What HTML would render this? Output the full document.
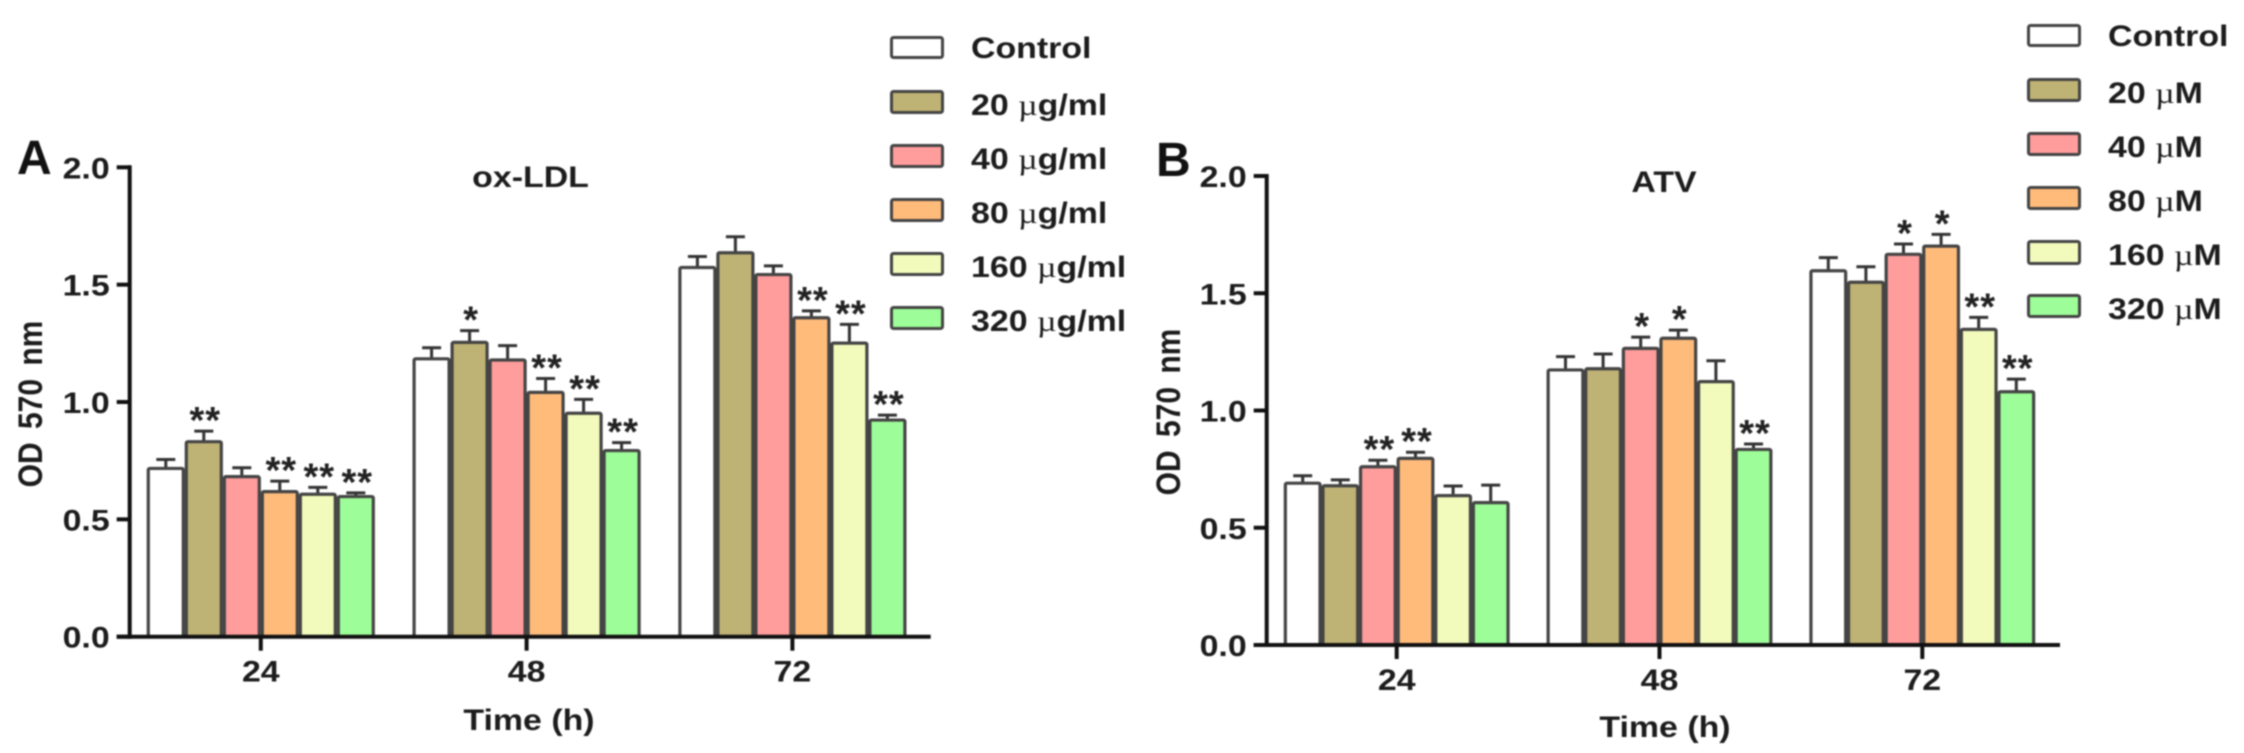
<!DOCTYPE html>
<html lang="en">
<head>
<meta charset="utf-8">
<title>OD 570 nm bar charts: ox-LDL and ATV</title>
<style>
html,body{margin:0;padding:0;background:#fff;width:2244px;height:753px;overflow:hidden}
svg{display:block;filter:blur(.8px)}
text{font-family:"Liberation Sans",sans-serif;font-weight:700;font-size:30px;fill:#1c1c1c}
.mu{font-family:"Liberation Serif",serif;font-weight:400}
.letter{font-size:48px;fill:#111}
.star{font-size:38px;font-weight:700;text-anchor:middle;fill:#222;letter-spacing:1px}
.swatch{stroke:#444;stroke-width:3}
</style>
</head>
<body>
<svg id="figure" xmlns="http://www.w3.org/2000/svg" width="2244" height="753" viewBox="0 0 2244 753">
  <rect width="2244" height="753" fill="#fff"/>

  <g id="panel-a"></g>
  <g id="panel-b"></g>

  <text class="letter" x="17" y="174">A</text>
  <text class="letter" x="1156" y="176">B</text>

  <text text-anchor="middle" transform="translate(530.5,187) scale(1.13,1)">ox-LDL</text>
  <text text-anchor="middle" transform="translate(1664,192) scale(1.13,1)">ATV</text>

  <text text-anchor="middle" word-spacing="5" transform="translate(42,404) rotate(-90) scale(1,1.13)">OD 570 nm</text>
  <text text-anchor="middle" word-spacing="5" transform="translate(1180,412) rotate(-90) scale(1,1.13)">OD 570 nm</text>
  <text text-anchor="middle" transform="translate(529,730) scale(1.13,1)">Time (h)</text>
  <text text-anchor="middle" transform="translate(1665,737) scale(1.13,1)">Time (h)</text>

  <g>
    <g><rect class="swatch" x="891.5" y="37.5" width="51" height="20" rx="2" fill="#ffffff"/><text transform="translate(971,58) scale(1.13,1)">Control</text></g>
    <g><rect class="swatch" x="891.5" y="91.5" width="51" height="21" rx="2" fill="#bfb275"/><text transform="translate(971,115) scale(1.13,1)">20 <tspan class="mu">µ</tspan>g/ml</text></g>
    <g><rect class="swatch" x="891.5" y="145.5" width="51" height="21" rx="2" fill="#ff9c9c"/><text transform="translate(971,169) scale(1.13,1)">40 <tspan class="mu">µ</tspan>g/ml</text></g>
    <g><rect class="swatch" x="891.5" y="199.5" width="51" height="21" rx="2" fill="#ffbb7a"/><text transform="translate(971,223) scale(1.13,1)">80 <tspan class="mu">µ</tspan>g/ml</text></g>
    <g><rect class="swatch" x="891.5" y="253.5" width="51" height="21" rx="2" fill="#f2fbbb"/><text transform="translate(971,277) scale(1.13,1)">160 <tspan class="mu">µ</tspan>g/ml</text></g>
    <g><rect class="swatch" x="891.5" y="307.5" width="51" height="21" rx="2" fill="#9dfd98"/><text transform="translate(971,331) scale(1.13,1)">320 <tspan class="mu">µ</tspan>g/ml</text></g>
  </g>

  <g>
    <g><rect class="swatch" x="2028.5" y="25.5" width="51" height="20" rx="2" fill="#ffffff"/><text transform="translate(2108,46) scale(1.13,1)">Control</text></g>
    <g><rect class="swatch" x="2028.5" y="79.5" width="51" height="21" rx="2" fill="#bfb275"/><text transform="translate(2108,103) scale(1.13,1)">20 <tspan class="mu">µ</tspan>M</text></g>
    <g><rect class="swatch" x="2028.5" y="133.5" width="51" height="21" rx="2" fill="#ff9c9c"/><text transform="translate(2108,157) scale(1.13,1)">40 <tspan class="mu">µ</tspan>M</text></g>
    <g><rect class="swatch" x="2028.5" y="187.5" width="51" height="21" rx="2" fill="#ffbb7a"/><text transform="translate(2108,211) scale(1.13,1)">80 <tspan class="mu">µ</tspan>M</text></g>
    <g><rect class="swatch" x="2028.5" y="241.5" width="51" height="22" rx="2" fill="#f2fbbb"/><text transform="translate(2108,265) scale(1.13,1)">160 <tspan class="mu">µ</tspan>M</text></g>
    <g><rect class="swatch" x="2028.5" y="295.5" width="51" height="21" rx="2" fill="#9dfd98"/><text transform="translate(2108,319) scale(1.13,1)">320 <tspan class="mu">µ</tspan>M</text></g>
  </g>
</svg>

<script>
// Chart data
const hours = ['24', '48', '72'];
const yTicks = [0, 0.5, 1, 1.5, 2];
const yTickLabels = ['0.0', '0.5', '1.0', '1.5', '2.0'];
const seriesColors = ['#ffffff', '#bfb275', '#ff9c9c', '#ffbb7a', '#f2fbbb', '#9dfd98'];

const oxLdlMeans = [
  [0.717, 0.831, 0.682, 0.618, 0.607, 0.597],
  [1.184, 1.254, 1.179, 1.041, 0.952, 0.793],
  [1.573, 1.636, 1.543, 1.359, 1.251, 0.923]
];
const oxLdlErrors = [
  [0.038, 0.045, 0.038, 0.045, 0.029, 0.016],
  [0.047, 0.050, 0.061, 0.059, 0.059, 0.034],
  [0.047, 0.068, 0.037, 0.029, 0.080, 0.021]
];
const oxLdlStars = [
  ['', '**', '', '**', '**', '**'],
  ['', '*', '', '**', '**', '**'],
  ['', '', '', '**', '**', '**']
];

const atvMeans = [
  [0.690, 0.679, 0.760, 0.796, 0.637, 0.607],
  [1.173, 1.178, 1.265, 1.308, 1.123, 0.834],
  [1.596, 1.547, 1.666, 1.701, 1.346, 1.080]
];
const atvErrors = [
  [0.032, 0.025, 0.028, 0.026, 0.041, 0.075],
  [0.057, 0.063, 0.048, 0.035, 0.089, 0.023],
  [0.056, 0.066, 0.044, 0.050, 0.051, 0.054]
];
const atvStars = [
  ['', '', '**', '**', '', ''],
  ['', '', '*', '*', '', '**'],
  ['', '', '*', '*', '**', '**']
];

// Rendering
const SVG_NS = 'http://www.w3.org/2000/svg';

function make(parent, tag, attrs, content) {
  const node = document.createElementNS(SVG_NS, tag);
  for (const key in attrs) node.setAttribute(key, attrs[key]);
  if (content !== undefined) node.textContent = content;
  parent.appendChild(node);
  return node;
}

function drawPanel(cfg) {
  const root = document.getElementById(cfg.id);
  const yScale = v => cfg.y0 - v * cfg.unit;
  const groupX = g => cfg.x0 + g * cfg.groupStep;
  const barX = (g, s) => groupX(g) + (s - 2.5) * cfg.barStep;

  cfg.means.forEach((row, g) => {
    row.forEach((value, s) => {
      const cx = barX(g, s);
      const capY = yScale(value + cfg.errors[g][s]);

      const whisker = make(root, 'path', {
        d: 'M' + (cx - 9.5) + ' ' + capY + 'H' + (cx + 9.5) + 'M' + cx + ' ' + capY + 'V' + yScale(value),
        fill: 'none', stroke: '#333', 'stroke-width': 3
      });
      
      

      const bar = make(root, 'rect', {
        x: cx - cfg.barWidth / 2, y: yScale(value),
        width: cfg.barWidth, height: yScale(0) - yScale(value),
        rx: 1.5, fill: seriesColors[s], stroke: '#444', 'stroke-width': 3.2
      });
      
      

      if (cfg.stars[g][s]) {
        const star = make(root, 'text', {
          class: 'star', x: cx + 1.5, y: capY + 2
        }, cfg.stars[g][s]);
        
        
      }
    });
  });

  const yAxis = make(root, 'line', {
    x1: cfg.axisX, x2: cfg.axisX, y1: yScale(2) - 2, y2: yScale(0) + 2, stroke: '#111', 'stroke-width': 4
  });
  
  

  const xAxis = make(root, 'line', {
    x1: cfg.axisX - 13, x2: cfg.axisEnd, y1: yScale(0), y2: yScale(0), stroke: '#111', 'stroke-width': 4
  });
  
  

  yTicks.forEach((tick, i) => {
    const yTick = make(root, 'line', {
      x1: cfg.axisX - 13, x2: cfg.axisX, y1: yScale(tick), y2: yScale(tick), stroke: '#111', 'stroke-width': 4
    });
    
    

    const yLabel = make(root, 'text', {
      'text-anchor': 'end',
      transform: 'translate(' + (cfg.axisX - 20) + ',' + (yScale(tick) + 11) + ') scale(1.13,1)'
    }, yTickLabels[i]);
    
    
  });

  hours.forEach((hour, g) => {
    const xTick = make(root, 'line', {
      x1: groupX(g), x2: groupX(g), y1: yScale(0), y2: yScale(0) + 14, stroke: '#111', 'stroke-width': 4
    });
    
    

    const xLabel = make(root, 'text', {
      'text-anchor': 'middle',
      transform: 'translate(' + groupX(g) + ',' + (yScale(0) + 45) + ') scale(1.13,1)'
    }, hour);
    
    
  });
}

drawPanel({
  id: 'panel-a', means: oxLdlMeans, errors: oxLdlErrors, stars: oxLdlStars,
  y0: 636.7, unit: 234.7, axisX: 129.7, axisEnd: 930.7,
  x0: 260.8, groupStep: 265.8, barStep: 38, barWidth: 35
});
drawPanel({
  id: 'panel-b', means: atvMeans, errors: atvErrors, stars: atvStars,
  y0: 645, unit: 234.5, axisX: 1266.7, axisEnd: 2060,
  x0: 1396.7, groupStep: 262.8, barStep: 37.6, barWidth: 34.7
});
</script>
</body>
</html>
